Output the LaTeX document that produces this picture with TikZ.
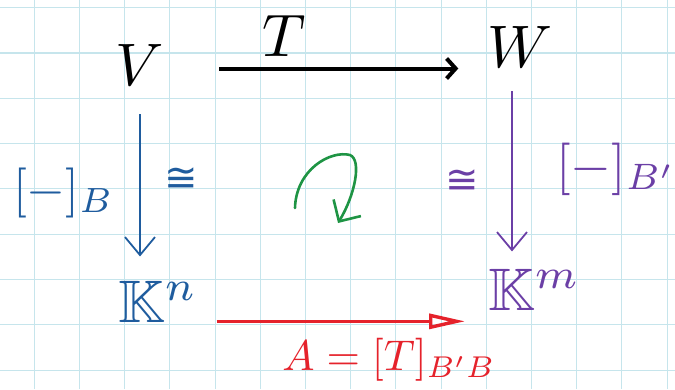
\documentclass[tikz,border=0pt]{standalone}
\usepackage{amsmath,amssymb}
\usepackage{fontspec}
\usepackage{xcolor}
\usepackage{tikz}
\usetikzlibrary{arrows.meta,positioning}
\newfontfamily\symfont{DejaVu Sans}
\definecolor{penBlue}{HTML}{1F5C9E}
\definecolor{penPurple}{HTML}{6B3FA6}
\definecolor{penGreen}{HTML}{1E9444}
\definecolor{penRed}{HTML}{E5222B}
\definecolor{paperCyan}{HTML}{C6E5EC}

\begin{document}
\begin{tikzpicture}[x=1pt,y=-1pt,
  obj/.style={inner sep=0pt,scale=6},
  side/.style={inner sep=0pt,scale=5},
  iso/.style={inner sep=0pt,scale=4,font=\symfont},
  lbl/.style={inner sep=0pt,scale=6},
  paper/.style={paperCyan,line width=1.1pt},
  vmap/.style={line width=1.8pt,-{Straight Barb[length=18pt,width=30pt]}}]
\useasboundingbox (0,0) rectangle (675,389);
% squared paper
\foreach \i in {0,...,14} \draw[paper] ({34.3+45.2*\i},0) -- ++(0,389);
\foreach \j in {0,...,8} \draw[paper] (0,{7.7+45.3*\j}) -- ++(675,0);
% V -> W on top, K^n -> K^m below
\node[obj,anchor=base] (V) at (140,85) {$V$};
\node[obj,anchor=base] (W) at (520,67) {$W$};
\node[obj,anchor=base west,penBlue] (Kn) at (117,322) {$\mathbb{K}^n$};
\node[obj,anchor=base west,penPurple] (Km) at (487,310) {$\mathbb{K}^m$};
\draw[line width=4pt,-{Straight Barb[length=9pt,width=20pt]},shorten <=54pt,shorten >=28pt]
  ([yshift=-4pt]V.east) -- node[lbl,above=0pt,pos=0.37] (Tlab) {$T$} ([yshift=-4pt]V.east -| W.west);
\draw[penRed,line width=3.4pt,-{Triangle[open,length=36pt,width=15pt]},shorten <=18pt,shorten >=22pt]
  ([yshift=-20pt]Kn.east) -- node[side,scale=0.86,below=10pt,pos=0.66] (Alab) {$A=[T]_{B'B}$} ([yshift=-20pt]Kn.east -| Km.west);
% coordinate maps
\draw[vmap,penBlue,shorten <=28pt,shorten >=23pt] (V.south) -- (V.south |- Kn.north);
\draw[vmap,penPurple,shorten <=23pt,shorten >=16pt] ([xshift=-8pt]W.south) -- ([xshift=-8pt]W.south |- Km.north);
\node[side,anchor=base west,penBlue] (cB) at (12,205) {$[-]_B$};
\node[iso,penBlue] (isoB) at (181,180) {≅};
\node[iso,penPurple] (isoBp) at (462,182) {≅};
\node[side,scale=1.05,anchor=base west,penPurple] (cBp) at (555,182) {$[-]_{B'}$};
% commutes
\draw[penGreen,line width=2.6pt,line cap=round,-{Straight Barb[length=16pt,width=32pt]}]
  (295,208) .. controls (296,170) and (330,150) .. (350,155) .. controls (362,160) and (355,195) .. (338,223);
\end{tikzpicture}
\end{document}
